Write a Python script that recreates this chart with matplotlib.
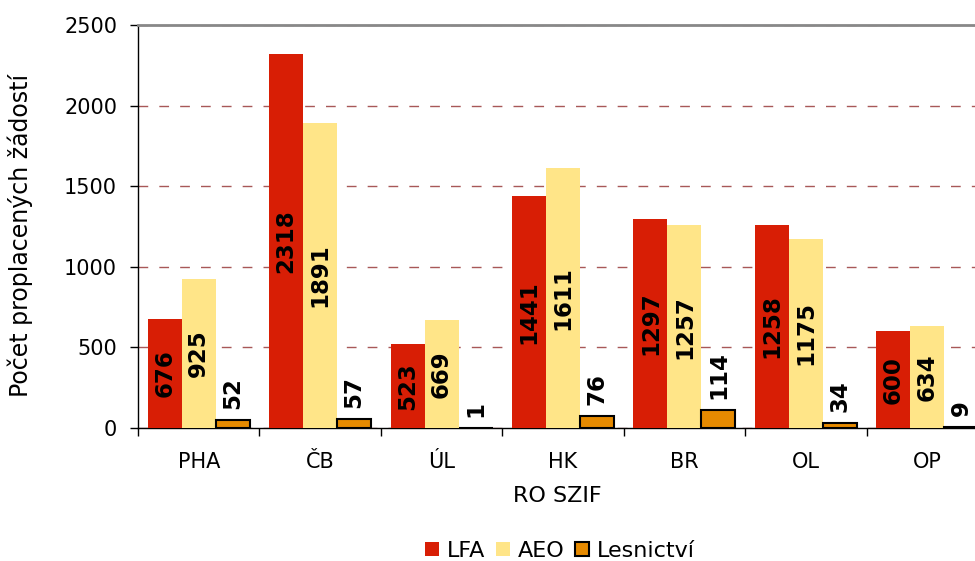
import numpy as np
import matplotlib
matplotlib.use("Agg")
import matplotlib.pyplot as plt
from matplotlib.ticker import FixedLocator

# data
regions = ["PHA", "ČB", "ÚL", "HK", "BR", "OL", "OP"]
lfa = [676, 2318, 523, 1441, 1297, 1258, 600]
aeo = [925, 1891, 669, 1611, 1257, 1175, 634]
lesnictvi = [52, 57, 1, 76, 114, 34, 9]

series = ["LFA", "AEO", "Lesnictví"]
colors = ["#D81E05", "#FFE588", "#E68A00"]

plt.rcParams["font.family"] = ["DejaVu Sans"]

fig = plt.figure(figsize=(9.75, 5.61), dpi=100)
ax = fig.add_axes([138 / 975, 1 - 428 / 561, 850 / 975, (428 - 25) / 561])

x = np.arange(len(regions))
w = 0.28

b1 = ax.bar(x - w, lfa, w, color=colors[0], label=series[0], zorder=3)
b2 = ax.bar(x, aeo, w, color=colors[1], label=series[1], zorder=3)
b3 = ax.bar(x + w, lesnictvi, w, color=colors[2], edgecolor="black",
            linewidth=1.5, label=series[2], zorder=3)

# labels inside bars
for bars in (b1, b2):
    for r in bars:
        h = r.get_height()
        ax.text(r.get_x() + r.get_width() / 2, h / 2, f"{h:.0f}",
                rotation=90, ha="center", va="center",
                fontsize=16.5, fontweight="bold", color="black", zorder=4)
# labels above small bars
for r in b3:
    h = r.get_height()
    ax.annotate(f"{h:.0f}", (r.get_x() + r.get_width() / 2, h),
                xytext=(0, 7.5), textcoords="offset points",
                rotation=90, ha="center", va="bottom",
                fontsize=16.5, fontweight="bold", color="black", zorder=4)

ax.set_xlim(-0.5, len(regions) - 0.5)
ax.set_ylim(0, 2500)
ax.set_yticks([0, 500, 1000, 1500, 2000, 2500])
ax.set_xticks(x)
ax.set_xticklabels(regions)
ax.xaxis.set_minor_locator(FixedLocator(np.arange(-0.5, len(regions), 1.0)))
ax.tick_params(axis="x", which="major", length=0, pad=17, labelsize=15)
ax.tick_params(axis="x", which="minor", length=6, width=1, direction="out")
ax.tick_params(axis="y", length=6, width=1, direction="out", pad=9, labelsize=15)

ax.yaxis.grid(True, color="#A85858", linestyle=(0, (7, 8)), linewidth=1, zorder=0)
ax.set_axisbelow(True)

ax.spines["right"].set_visible(False)
ax.spines["top"].set_color("#888888")
ax.spines["top"].set_linewidth(2)
ax.spines["left"].set_linewidth(1)
ax.spines["bottom"].set_linewidth(1)

fig.text(20 / 975, 1 - 235 / 561, "Počet proplacených žádostí", rotation=90,
         ha="center", va="center", fontsize=17)
fig.text(557 / 975, 1 - 496 / 561, "RO SZIF", ha="center", va="center", fontsize=16)

fig.legend(loc="center", bbox_to_anchor=(560 / 975, 1 - 551 / 561), ncol=3,
           frameon=False, fontsize=16, handlelength=0.62, handleheight=0.62,
           handletextpad=0.35, columnspacing=0.5, borderpad=0, borderaxespad=0)

fig.savefig("out.png", dpi=100)
